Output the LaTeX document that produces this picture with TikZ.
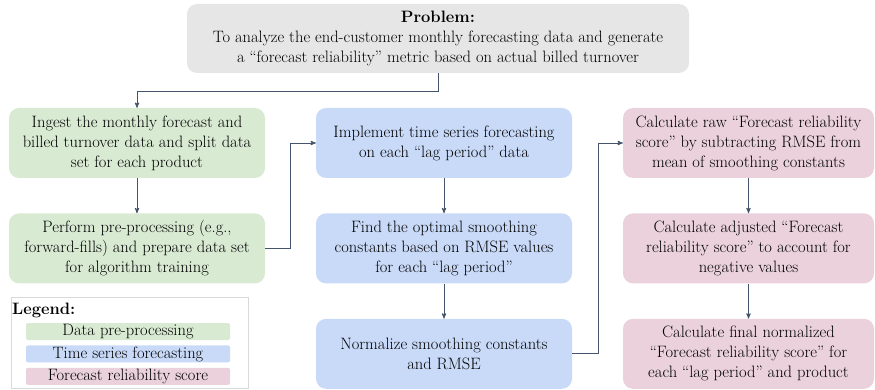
\documentclass[tikz,border=0pt]{standalone}
\usetikzlibrary{arrows,positioning}
\definecolor{probgray}{HTML}{E6E6E6}
\definecolor{prepgreen}{HTML}{D9EAD3}
\definecolor{tsblue}{HTML}{C9DAF8}
\definecolor{scorepink}{HTML}{EAD1DC}
\definecolor{linkgray}{HTML}{44546A}
\tikzset{
  stepnode/.style = {align=center, inner sep=0pt, text centered,
    rounded corners=10pt, minimum height=70pt,
    font=\fontsize{16.5}{20}\selectfont},
  prepbox/.style = {stepnode, fill=prepgreen, minimum width=256pt},% data pre-processing
  tsbox/.style = {stepnode, fill=tsblue, minimum width=256pt},% time series forecasting
  scorebox/.style = {stepnode, fill=scorepink, minimum width=251pt},% reliability score
  keybar/.style = {inner sep=0pt, rounded corners=2pt, minimum width=204pt,
    minimum height=17pt, font=\fontsize{16.5}{20}\selectfont},
  link/.style = {draw=linkgray, line width=0.9pt}
}

\begin{document}
\begin{tikzpicture}[x=1pt,y=-1pt,->,>=stealth']
  \useasboundingbox (0,0) rectangle (875,390);
  % problem statement
  \node [stepnode, fill=probgray, minimum width=502pt, minimum height=69pt]
    (problem) at (438,38.5) {\textbf{Problem:}\\
    To analyze the end-customer monthly forecasting data and generate\\
    a ``forecast reliability'' metric based on actual billed turnover};
  % first column
  \node [prepbox] (ingest) at (137,143) {Ingest the monthly forecast and\\
    billed turnover data and split data\\ set for each product};
  \node [prepbox, below=35pt of ingest] (prep) {Perform pre-processing (e.g.,\\
    forward-fills) and prepare data set\\ for algorithm training};
  % second column
  \node [tsbox] (implement) at (444,143) {Implement time series forecasting\\
    on each ``lag period'' data};
  \node [tsbox, below=35pt of implement] (optimal) {Find the optimal smoothing\\
    constants based on RMSE values\\ for each ``lag period''};
  \node [tsbox, below=35pt of optimal] (normalize) {Normalize smoothing constants\\
    and RMSE};
  % third column
  \node [scorebox] (rawscore) at (748.5,143) {Calculate raw ``Forecast reliability\\
    score'' by subtracting RMSE from\\ mean of smoothing constants};
  \node [scorebox, below=35pt of rawscore] (adjscore) {Calculate adjusted ``Forecast\\
    reliability score'' to account for\\ negative values};
  \node [scorebox, below=35pt of adjscore] (finalscore) {Calculate final normalized\\
    ``Forecast reliability score'' for\\ each ``lag period'' and product};
  % legend
  \node [draw=black!15, line width=0.6pt, minimum width=237pt, minimum height=91pt,
    inner sep=0pt] (legend) at (129.5,342.5) {};
  \node [anchor=west, inner sep=0pt, font=\fontsize{16.5}{20}\selectfont\bfseries]
    (legendtitle) at (12,310) {Legend:};
  \node [keybar, fill=prepgreen] (keyprep) at (128,331.5) {Data pre-processing};
  \node [keybar, fill=tsblue, below=5pt of keyprep] (keyts) {Time series forecasting};
  \node [keybar, fill=scorepink, below=5pt of keyts] (keyscore) {Forecast reliability score};
  % connectors
  \draw [link] (problem.south) -- ++(0,18) -| (ingest.north);
  \draw [link] (ingest) -- (prep);
  \draw [link] (prep.east) -- ++(25,0) |- (implement.west);
  \draw [link] (implement) -- (optimal);
  \draw [link] (optimal) -- (normalize);
  \draw [link] (normalize.east) -- ++(26,0) |- (rawscore.west);
  \draw [link] (rawscore) -- (adjscore);
  \draw [link] (adjscore) -- (finalscore);
\end{tikzpicture}
\end{document}
